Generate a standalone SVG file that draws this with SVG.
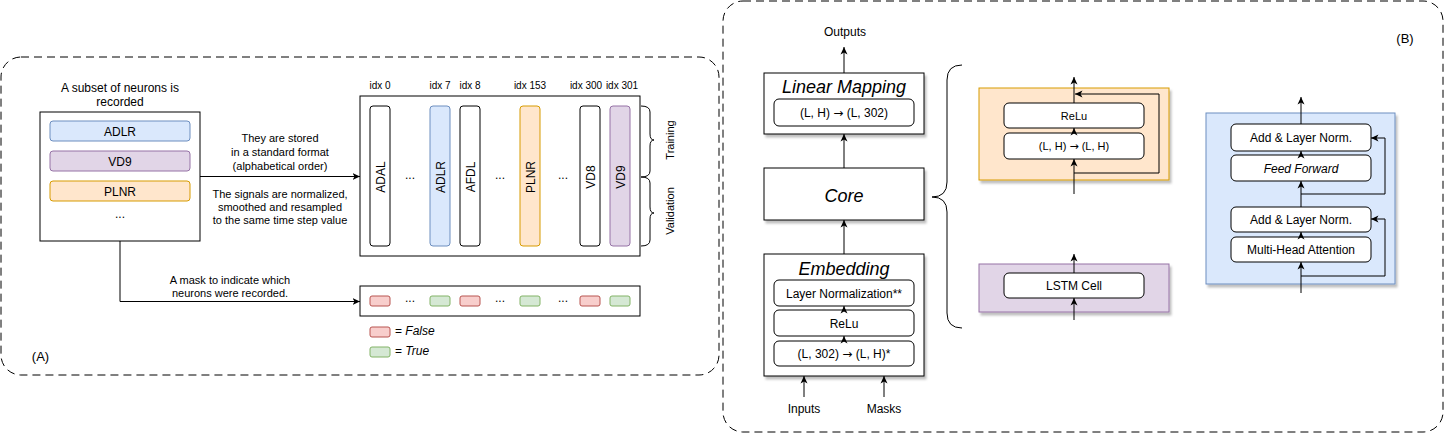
<svg xmlns="http://www.w3.org/2000/svg" width="1445" height="433" viewBox="0 0 1445 433">
<style>
text{font-family:"Liberation Sans",Arial,Helvetica,sans-serif;fill:#000;text-anchor:middle}
.arw{font-family:"DejaVu Sans",sans-serif}
.t10{font-size:10px}.t11{font-size:11px}.t12{font-size:12px}.t13{font-size:13px}.t18{font-size:18px;font-style:italic}
.it{font-style:italic}
.box{fill:#fff;stroke:#000;stroke-width:1}
.in{fill:#fff;stroke:#000;stroke-width:1}
.blue{fill:#dae8fc;stroke:#6c8ebf}
.purple{fill:#e1d5e7;stroke:#9673a6}
.orange{fill:#ffe6cc;stroke:#d79b00}
.red{fill:#f8cecc;stroke:#b85450}
.green{fill:#d5e8d4;stroke:#82b366}
.cont{fill:none;stroke:#000;stroke-dasharray:8 5}
.ln{fill:none;stroke:#000;stroke-width:1}
.ar{fill:none;stroke:#000;stroke-width:1;marker-end:url(#arr)}
.sh{filter:url(#shadow)}
</style>
<defs>
<marker id="arr" viewBox="0 0 8 8" refX="7.5" refY="4" markerWidth="8" markerHeight="8" orient="auto" markerUnits="userSpaceOnUse">
<path d="M0,0.5 L7.5,4 L0,7.5 L2,4 z" fill="#000"/>
</marker>
<filter id="shadow" x="-10%" y="-10%" width="130%" height="130%">
<feDropShadow dx="2" dy="3" stdDeviation="1" flood-color="#000" flood-opacity="0.25"/>
</filter>
</defs>

<g id="containerA"><rect class="cont" x="1" y="57" width="718" height="318" rx="20"/></g>
<g id="containerB"><rect class="cont" x="723" y="1" width="720" height="431" rx="20"/></g>

<g id="labelA"><text class="t13" x="40.5" y="360.5">(A)</text></g>
<g id="labelB"><text class="t13" x="1405" y="42.5">(B)</text></g>

<!-- Section A -->
<g id="subset">
<text class="t12" x="120" y="92">A subset of neurons is</text>
<text class="t12" x="120" y="106">recorded</text>
<rect class="box" x="40" y="112" width="160" height="129"/>
<rect class="blue" x="50" y="121" width="140" height="20" rx="3"/>
<text class="t12" x="120" y="135.5">ADLR</text>
<rect class="purple" x="50" y="151" width="140" height="20" rx="3"/>
<text class="t12" x="120" y="165.5">VD9</text>
<rect class="orange" x="50" y="181" width="140" height="20" rx="3"/>
<text class="t12" x="120" y="195.5">PLNR</text>
<text class="t12" x="120" y="218">...</text>
</g>

<g id="storedLabel">
<text class="t11" x="280" y="142">They are stored</text>
<text class="t11" x="280" y="156">in a standard format</text>
<text class="t11" x="280" y="170">(alphabetical order)</text>
<text class="t11" x="280" y="198">The signals are normalized,</text>
<text class="t11" x="280" y="211">smoothed and resampled</text>
<text class="t11" x="280" y="224">to the same time step value</text>
</g>
<g id="maskLabel">
<text class="t11" x="230" y="284">A mask to indicate which</text>
<text class="t11" x="230" y="297">neurons were recorded.</text>
</g>

<g id="storage">
<text class="t10" x="380" y="88.5">idx 0</text>
<text class="t10" x="440" y="88.5">idx 7</text>
<text class="t10" x="470" y="88.5">idx 8</text>
<text class="t10" x="530" y="88.5">idx 153</text>
<text class="t10" x="586" y="88.5">idx 300</text>
<text class="t10" x="622" y="88.5">idx 301</text>
<rect class="box" x="360" y="96" width="280" height="160"/>
<rect class="box" x="370" y="106" width="20" height="140" rx="3"/>
<rect class="blue" x="430" y="106" width="20" height="140" rx="3"/>
<rect class="box" x="460" y="106" width="20" height="140" rx="3"/>
<rect class="orange" x="520" y="106" width="20" height="140" rx="3"/>
<rect class="box" x="580" y="106" width="20" height="140" rx="3"/>
<rect class="purple" x="610" y="106" width="20" height="140" rx="3"/>
<text class="t12" transform="translate(384.5,177) rotate(-90)">ADAL</text>
<text class="t12" transform="translate(444.5,177) rotate(-90)">ADLR</text>
<text class="t12" transform="translate(474.5,177) rotate(-90)">AFDL</text>
<text class="t12" transform="translate(534.5,177) rotate(-90)">PLNR</text>
<text class="t12" transform="translate(594.5,177) rotate(-90)">VD8</text>
<text class="t12" transform="translate(624.5,177) rotate(-90)">VD9</text>
<text class="t12" x="410" y="179">...</text>
<text class="t12" x="500" y="179">...</text>
<text class="t12" x="563" y="179">...</text>
</g>

<g id="split">
<path class="ln" d="M641,106 Q650,106 650,112 L650,134 Q650,140 654,140 Q650,140 650,146 L650,171 Q650,177 641,177"/>
<path class="ln" d="M641,177 Q650,177 650,183 L650,207 Q650,213 654,213 Q650,213 650,219 L650,240 Q650,246 641,246"/>
<text class="t11" transform="translate(674,140) rotate(-90)">Training</text>
<text class="t11" transform="translate(674,211) rotate(-90)">Validation</text>
</g>

<g id="mask">
<rect class="box" x="360" y="286" width="280" height="30"/>
<rect class="red" x="370" y="296" width="20" height="10" rx="2"/>
<text class="t12" x="410" y="302">...</text>
<rect class="green" x="430" y="296" width="20" height="10" rx="2"/>
<rect class="red" x="460" y="296" width="20" height="10" rx="2"/>
<text class="t12" x="500" y="302">...</text>
<rect class="green" x="520" y="296" width="20" height="10" rx="2"/>
<text class="t12" x="563" y="302">...</text>
<rect class="red" x="580" y="296" width="20" height="10" rx="2"/>
<rect class="green" x="610" y="296" width="20" height="10" rx="2"/>
</g>

<g id="legend">
<rect class="red" x="370" y="327" width="20" height="10" rx="2"/>
<text class="t12" x="395" y="335" style="text-anchor:start">= <tspan class="it">False</tspan></text>
<rect class="green" x="370" y="347" width="20" height="10" rx="2"/>
<text class="t12" x="395" y="355" style="text-anchor:start">= <tspan class="it">True</tspan></text>
</g>

<!-- Section B -->
<g id="outputs"><text class="t12" x="845" y="36">Outputs</text></g>
<g id="linearMapping">
<rect class="box sh" x="764" y="73" width="160" height="61"/>
<text class="t18" x="844" y="93">Linear Mapping</text>
<rect class="in" x="774" y="99" width="140" height="27" rx="5"/>
<text class="t12" x="844" y="117">(L, H) <tspan class="arw">→</tspan> (L, 302)</text>
</g>
<g id="core">
<rect class="box sh" x="764" y="168" width="160" height="52"/>
<text class="t18" x="844" y="201.5">Core</text>
</g>
<g id="embedding">
<rect class="box sh" x="764" y="254" width="160" height="122"/>
<text class="t18" x="844" y="274.5">Embedding</text>
<rect class="in" x="774" y="280" width="140" height="26" rx="5"/>
<text class="t12" x="844" y="297.5">Layer Normalization**</text>
<rect class="in" x="774" y="310" width="140" height="26" rx="5"/>
<text class="t12" x="844" y="327.5">ReLu</text>
<rect class="in" x="774" y="341" width="140" height="25" rx="5"/>
<text class="t12" x="844" y="358">(L, 302) <tspan class="arw">→</tspan> (L, H)*</text>
</g>
<g id="inputs"><text class="t12" x="804" y="413">Inputs</text></g>
<g id="masks"><text class="t12" x="884" y="413">Masks</text></g>

<g id="coreBrace">
<path class="ln" d="M962,65 Q947,65 947,80 L947,182 Q947,197 932,197 Q947,197 947,212 L947,313 Q947,328 962,328"/>
</g>

<g id="mlpCore">
<rect class="orange sh" x="979" y="88" width="190" height="92"/>
<rect class="in" x="1004" y="103" width="140" height="25" rx="5"/>
<text class="t11" x="1074" y="119.5">ReLu</text>
<rect class="in" x="1004" y="133" width="140" height="26" rx="5"/>
<text class="t11" x="1074" y="150">(L, H) <tspan class="arw">→</tspan> (L, H)</text>
</g>

<g id="lstmCore">
<rect class="purple sh" x="979" y="264" width="190" height="48"/>
<rect class="in" x="1004" y="273" width="140" height="25" rx="5"/>
<text class="t12" x="1074" y="290">LSTM Cell</text>
</g>

<g id="transformerCore">
<rect class="blue sh" x="1206" y="113" width="189" height="171"/>
<rect class="in" x="1231" y="124" width="140" height="27" rx="5"/>
<text class="t12" x="1301" y="142">Add &amp; Layer Norm.</text>
<rect class="in" x="1231" y="155" width="140" height="26" rx="5"/>
<text class="t12 it" x="1301" y="172.5">Feed Forward</text>
<rect class="in" x="1231" y="207" width="140" height="25" rx="5"/>
<text class="t12" x="1301" y="224">Add &amp; Layer Norm.</text>
<rect class="in" x="1231" y="237" width="140" height="25" rx="5"/>
<text class="t12" x="1301" y="254">Multi-Head Attention</text>
</g>

<g id="connectors">
<path class="ar" d="M200,176.5 L360,176.5"/>
<path class="ar" d="M120,241 L120,301.5 L360,301.5"/>
<path class="ar" d="M844,73 L844,47"/>
<path class="ar" d="M844,168 L844,134"/>
<path class="ar" d="M844,254 L844,220"/>
<path class="ar" d="M804,397 L804,376"/>
<path class="ar" d="M884,397 L884,376"/>
<path class="ar" d="M844,310 L844,306"/>
<path class="ar" d="M844,341 L844,336"/>
<path class="ar" d="M1074,194 L1074,159"/>
<path class="ar" d="M1074,133 L1074,128"/>
<path class="ar" d="M1074,103 L1074,77"/>
<path class="ar" d="M1074,173 L1159,173 L1159,94 L1075,94"/>
<path class="ar" d="M1074,320 L1074,298"/>
<path class="ar" d="M1074,273 L1074,254"/>
<path class="ar" d="M1301,293 L1301,262"/>
<path class="ar" d="M1301,237 L1301,232"/>
<path class="ar" d="M1301,276 L1385,276 L1385,219 L1371,219"/>
<path class="ar" d="M1301,207 L1301,181"/>
<path class="ar" d="M1301,194 L1385,194 L1385,138 L1371,138"/>
<path class="ar" d="M1301,155 L1301,151"/>
<path class="ar" d="M1301,124 L1301,97"/>
</g>
</svg>
